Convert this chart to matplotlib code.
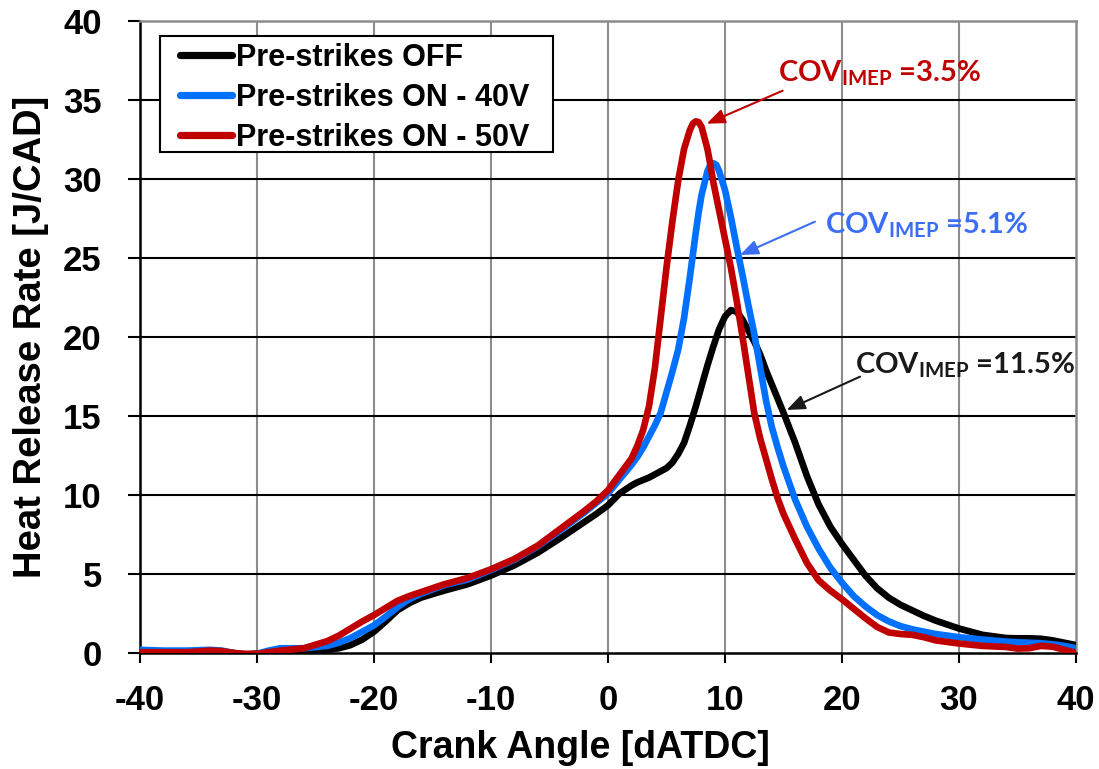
import matplotlib
matplotlib.use("Agg")
import matplotlib.pyplot as plt
from matplotlib.patches import Rectangle

plt.rcParams['mathtext.fontset'] = 'custom'
plt.rcParams['mathtext.bf'] = 'Lato:bold'
plt.rcParams['mathtext.rm'] = 'Lato:bold'
plt.rcParams['mathtext.it'] = 'Lato:bold'

crank_angle = [-40, -38, -36, -34, -33, -32, -31, -30, -29, -28, -26, -24, -23, -22, -21, -20,
               -19, -18, -17, -16, -14, -12, -10, -8, -6, -4, -2, -1, 0, 1, 2, 2.5, 3, 3.5,
               4, 4.5, 5, 5.5, 6, 6.5, 7, 7.25, 7.5, 7.75, 8, 8.5, 8.75, 9, 9.25, 9.5, 10, 10.5,
               11, 11.5, 12, 12.5, 13, 13.5, 14, 14.5, 15, 16, 17, 18, 19, 20, 21, 22, 23, 24,
               25, 26, 27, 28, 30, 32, 34, 35, 36, 37, 38, 39, 40]

hrr_off = [0.1, 0.1, 0.1, 0.12, 0.1, 0.0, -0.1, -0.05, 0.0, 0.05, 0.1, 0.2, 0.3, 0.5, 0.85, 1.35,
           2.0, 2.7, 3.15, 3.5, 3.95, 4.35, 4.9, 5.55, 6.35, 7.3, 8.3, 8.8, 9.35, 10.1, 10.6, 10.8,
           10.95, 11.1, 11.3, 11.5, 11.7, 12.05, 12.6, 13.3, 14.4, 15.0, 15.6, 16.25, 16.9, 18.2,
           18.8, 19.4, 19.95, 20.5, 21.3, 21.7, 21.6, 21.1, 20.4, 19.7, 18.9, 17.9, 17.0, 16.1,
           15.2, 13.3, 11.2, 9.4, 8.0, 6.9, 5.9, 4.9, 4.1, 3.5, 3.05, 2.7, 2.35, 2.05, 1.55, 1.15,
           0.95, 0.93, 0.93, 0.9, 0.8, 0.65, 0.5]

hrr_40v = [0.2, 0.15, 0.15, 0.2, 0.15, 0.0, -0.1, -0.05, 0.15, 0.3, 0.3, 0.45, 0.65, 0.95, 1.35,
           1.75, 2.3, 2.9, 3.4, 3.75, 4.3, 4.65, 5.25, 5.9, 6.75, 7.8, 8.9, 9.5, 10.1, 11.0, 11.9,
           12.4, 13.0, 13.7, 14.4, 15.2, 16.5, 17.8, 19.2, 21.2, 23.8, 25.2, 26.6, 27.9, 29.0,
           30.5, 30.9, 31.0, 30.9, 30.5, 29.3, 27.6, 25.7, 23.9, 22.0, 20.2, 18.1, 16.0, 14.3,
           13.0, 11.8, 9.7, 8.0, 6.6, 5.4, 4.45, 3.6, 2.95, 2.4, 2.0, 1.7, 1.5, 1.35, 1.2, 1.0,
           0.85, 0.72, 0.68, 0.65, 0.62, 0.55, 0.45, 0.3]

hrr_50v = [0.05, 0.05, 0.05, 0.15, 0.12, 0.0, -0.05, -0.05, 0.05, 0.15, 0.3, 0.75, 1.1, 1.55, 2.0,
           2.4, 2.85, 3.3, 3.6, 3.85, 4.35, 4.75, 5.3, 5.95, 6.8, 7.9, 9.0, 9.6, 10.3, 11.3, 12.3,
           13.1, 14.1, 15.6, 18.0, 21.2, 24.4, 27.3, 29.9, 31.9, 33.1, 33.5, 33.65, 33.6, 33.3,
           31.9, 30.9, 29.8, 28.9, 28.0, 26.2, 24.4, 22.3, 20.0, 17.6, 15.2, 13.6, 12.3, 11.0,
           9.8, 8.8, 7.2, 5.7, 4.6, 3.95, 3.4, 2.8, 2.2, 1.65, 1.3, 1.2, 1.15, 1.0, 0.8, 0.6,
           0.45, 0.38, 0.28, 0.3, 0.45, 0.4, 0.2, 0.0]

series_labels = ["Pre-strikes OFF", "Pre-strikes ON - 40V", "Pre-strikes ON - 50V"]
series_colors = ["#000000", "#0070FF", "#C00000"]

x_ticks = [-40, -30, -20, -10, 0, 10, 20, 30, 40]
y_ticks = [0, 5, 10, 15, 20, 25, 30, 35, 40]

cov_texts = ["11.5%", "5.1%", "3.5%"]
cov_colors = ["#1a1a1a", "#3B6EF5", "#C00000"]
cov_text_pos = [(21.1, 17.66), (18.55, 26.58), (14.53, 36.14)]
cov_arrow_tail = [(21.54, 17.49), (17.69, 27.3), (14.93, 35.59)]
cov_arrow_head = [(15.27, 15.38), (11.28, 25.19), (8.43, 33.5)]

W, H = 1099, 769
AX_L, AX_R, AX_T, AX_B = 140, 1076, 21, 653
AW, AH = AX_R - AX_L, AX_B - AX_T

fig = plt.figure(figsize=(W / 100, H / 100), dpi=100)
ax = fig.add_axes([AX_L / W, 1 - AX_B / H, AW / W, AH / H])

for yv, lab, col in zip([hrr_off, hrr_40v, hrr_50v], series_labels, series_colors):
    ax.plot(crank_angle, yv, color=col, lw=4.8, label=lab,
            solid_capstyle='round', solid_joinstyle='round', zorder=3)

ax.set_xlim(-40, 40)
ax.set_ylim(0, 40)
ax.set_xticks(x_ticks)
ax.set_yticks(y_ticks)
ax.set_xticklabels([str(v) for v in x_ticks])
ax.set_yticklabels([str(v) for v in y_ticks])

for v in x_ticks[1:-1]:
    ax.axvline(v, color='#8c8c8c', lw=1.5, zorder=1)
for v in y_ticks[1:-1]:
    ax.axhline(v, color='#000000', lw=1.5, zorder=1)

for side in ['left', 'bottom']:
    ax.spines[side].set_color('black')
    ax.spines[side].set_linewidth(1.8)
for side in ['top', 'right']:
    ax.spines[side].set_color('#8c8c8c')
    ax.spines[side].set_linewidth(1.8)

ax.tick_params(axis='x', direction='out', length=7.5, width=1.5, pad=15,
               labelsize=25, colors='black')
ax.tick_params(axis='y', direction='out', length=8.5, width=1.5, pad=19,
               labelsize=25, colors='black')
for lbl in ax.get_xticklabels() + ax.get_yticklabels():
    lbl.set_fontfamily('Liberation Sans')
    lbl.set_fontweight('bold')

ax.set_xlabel("Crank Angle [dATDC]", fontsize=27, fontweight='bold',
              fontfamily='Liberation Sans')
ax.xaxis.set_label_coords((580 - AX_L) / AW, (AX_B - 730) / AH)
ax.set_ylabel("Heat Release Rate [J/CAD]", fontsize=27.5, fontweight='bold',
              fontfamily='Liberation Sans', labelpad=10)

# legend frame drawn as a rectangle, entries placed inside it
ax.add_patch(Rectangle(((160 - AX_L) / AW, (AX_B - 152) / AH), (553 - 160) / AW, (152 - 36) / AH,
                       transform=ax.transAxes, facecolor='white', edgecolor='black',
                       lw=1.5, zorder=5, clip_on=False))
leg = ax.legend(loc='upper left', bbox_to_anchor=((180 - AX_L) / AW, (AX_B - 43) / AH),
                borderaxespad=0, borderpad=0,
                prop={'family': 'Liberation Sans', 'weight': 'bold', 'size': 22},
                frameon=False, handlelength=1.7, handletextpad=0.12,
                labelspacing=0.33)
for h in leg.get_lines():
    h.set_linewidth(5.2)
    h.set_solid_capstyle('round')
leg.set_zorder(6)

for txt, col, tpos, tail, head in zip(cov_texts, cov_colors, cov_text_pos,
                                      cov_arrow_tail, cov_arrow_head):
    ax.annotate("", xy=head, xytext=tail,
                arrowprops=dict(arrowstyle='-|>,head_length=0.55,head_width=0.22',
                                color=col, lw=1.5, mutation_scale=20,
                                shrinkA=0, shrinkB=0), zorder=4)
    ax.text(tpos[0], tpos[1], r"COV$_{\mathbf{IMEP}}$ =" + txt, color=col,
            fontsize=21, fontfamily='Lato', fontweight='bold', va='baseline', ha='left',
            zorder=4)

fig.savefig("out.png", dpi=100)
